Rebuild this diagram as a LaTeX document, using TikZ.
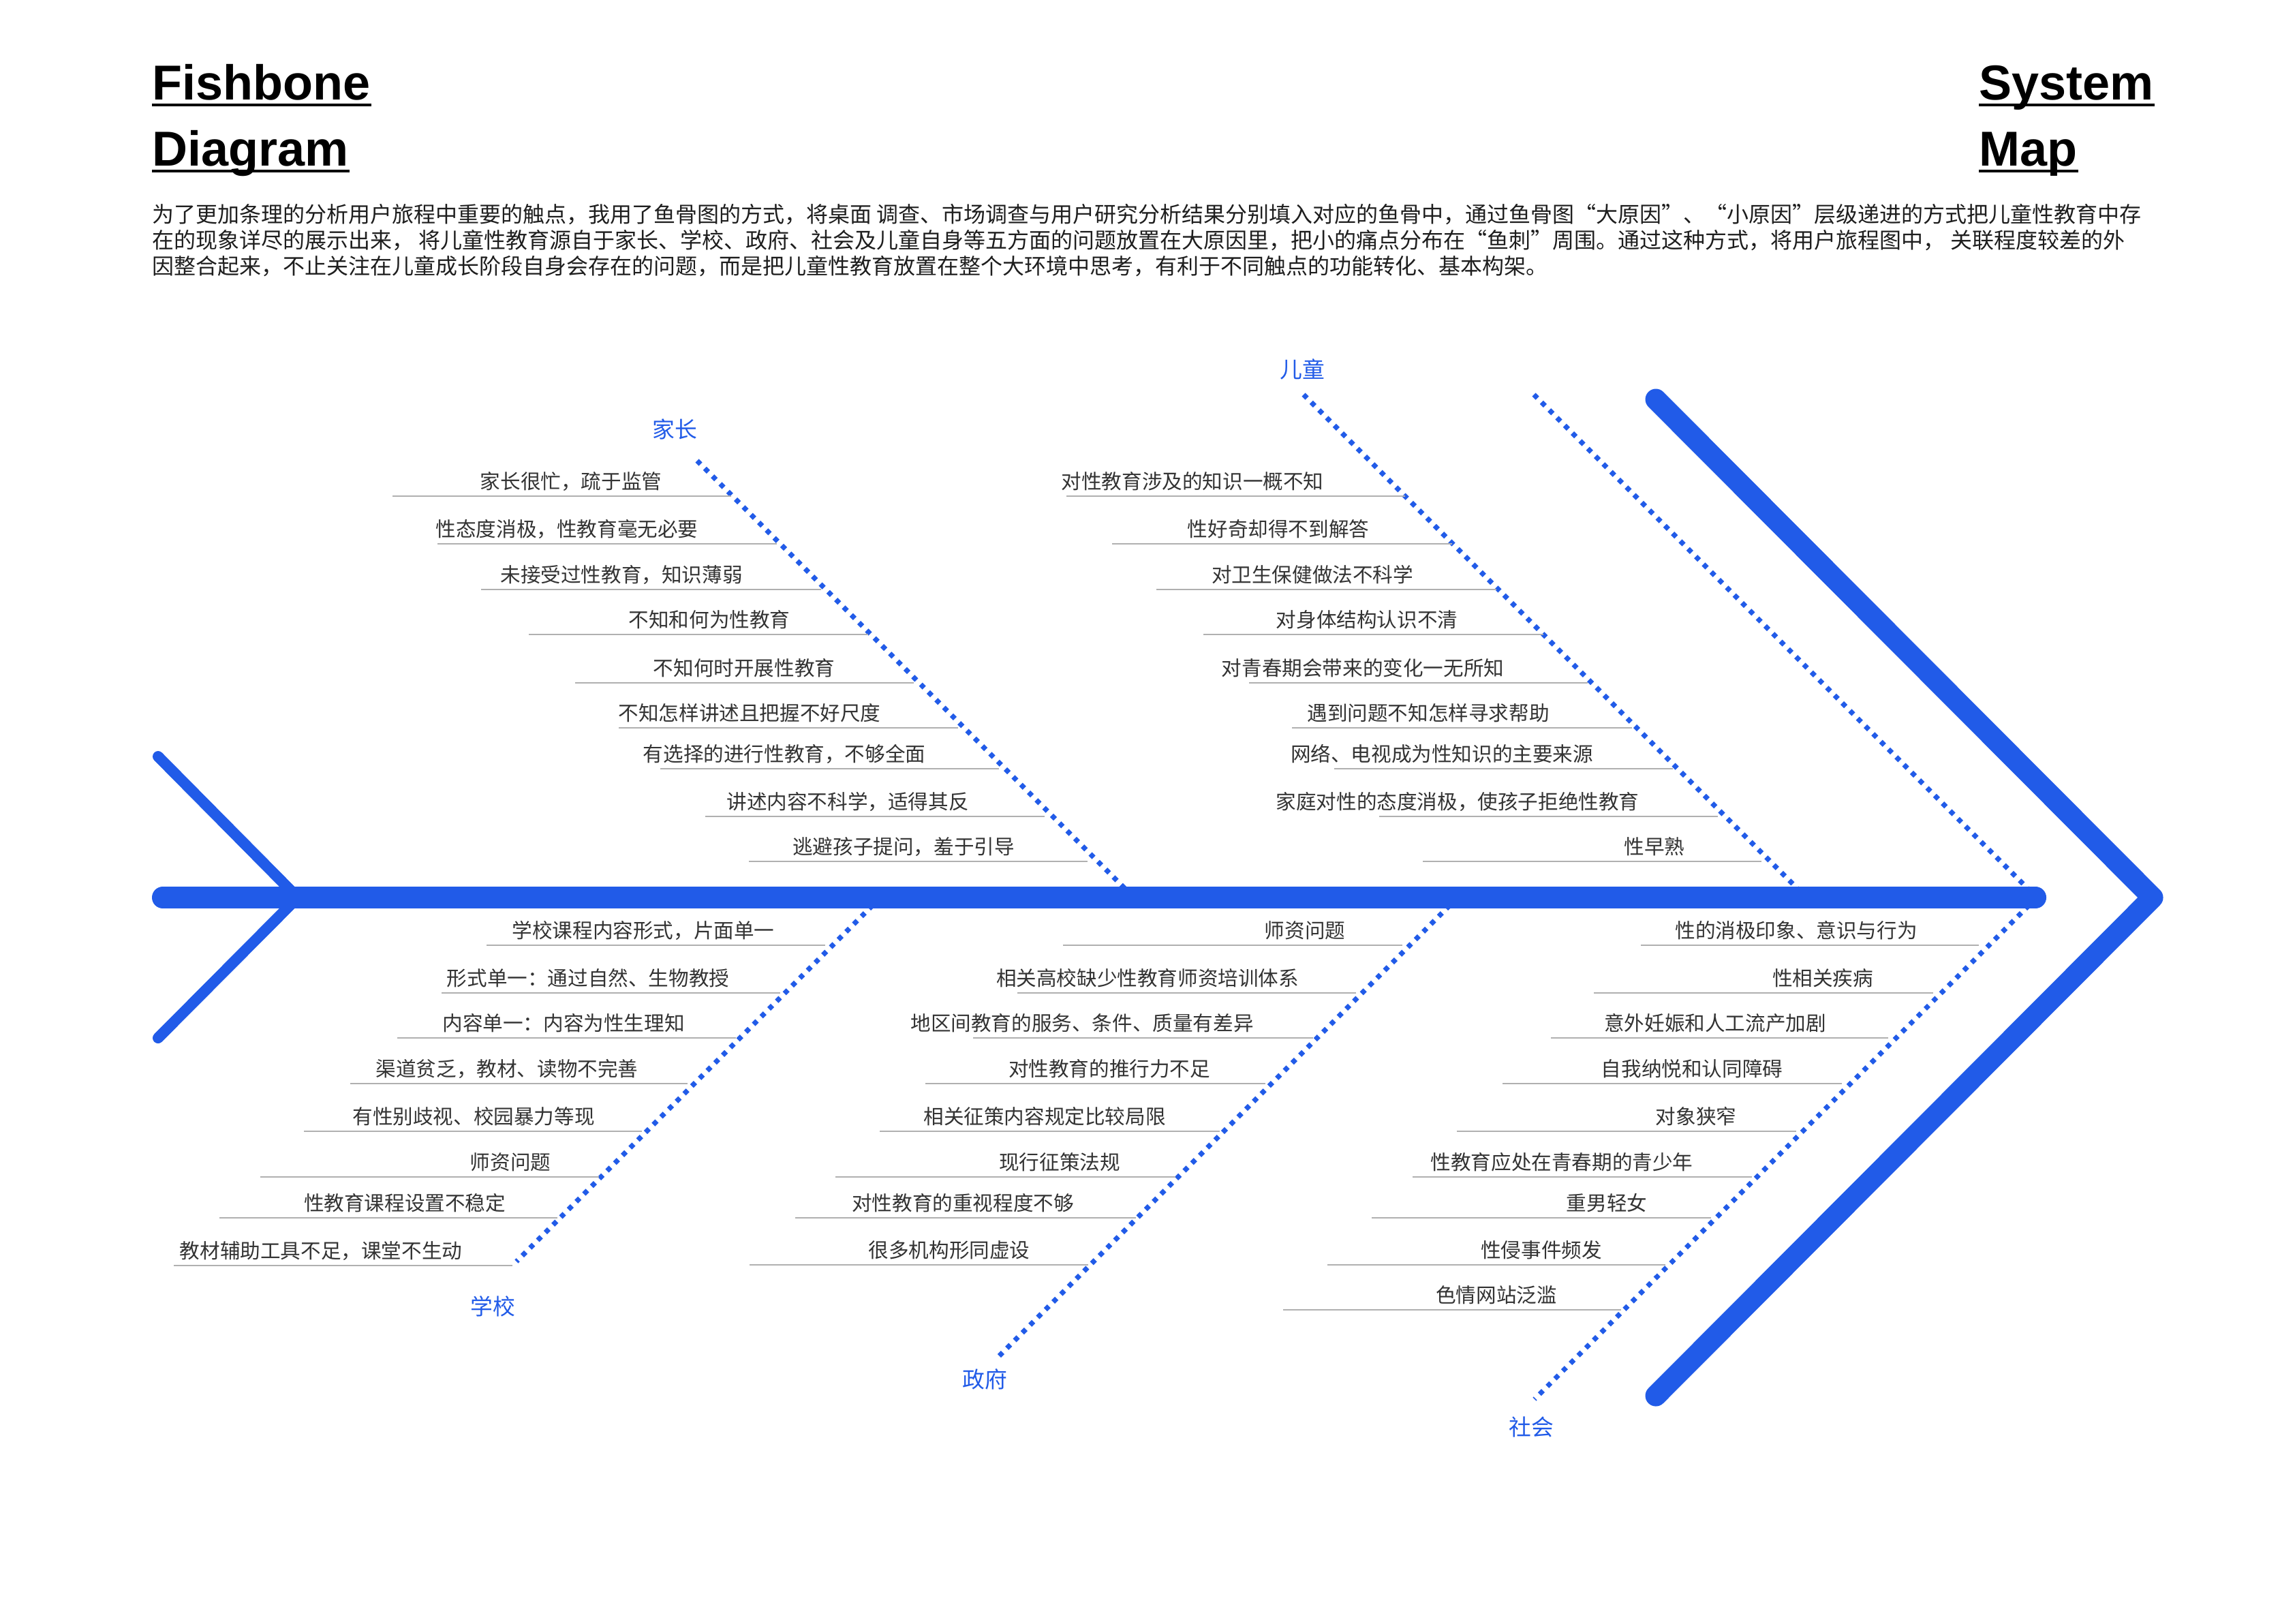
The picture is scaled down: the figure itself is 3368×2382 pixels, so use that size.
\documentclass[tikz,border=0pt]{standalone}
\usepackage{fontspec}
\setmainfont{Noto Sans CJK SC}
\newfontfamily\titlefont{Liberation Sans}
\definecolor{fbblue}{RGB}{33,91,232}
\definecolor{fbgray}{RGB}{176,176,176}
\definecolor{fbtext}{RGB}{51,51,51}
\definecolor{fbpara}{RGB}{30,30,30}
\tikzset{
  titlestyle/.style={inner sep=0pt, anchor=base west, font=\titlefont\bfseries\fontsize{18pt}{20pt}\selectfont, text=black},
  titleline/.style={line width=1pt, black},
  parastyle/.style={inner sep=0pt, anchor=base west, font=\fontsize{8pt}{9.4pt}\selectfont, text=fbpara},
  itemtext/.style={inner sep=0pt, anchor=base, font=\fontsize{7.4pt}{8.8pt}\selectfont, text=fbtext},
  uline/.style={line width=0.6pt, fbgray},
  grplabel/.style={inner sep=0pt, font=\fontsize{8.2pt}{9.6pt}\selectfont, text=fbblue},
  bonedot/.style={line width=1.8pt, fbblue, dash pattern=on 1.8pt off 2.2pt},
  spinestyle/.style={line width=8pt, fbblue, line cap=round},
  headstyle/.style={line width=7.75pt, fbblue, line cap=round, line join=round},
  tailstyle/.style={line width=4pt, fbblue, line cap=round, line join=round}
}
\newcommand\fbitem[6]{%
  \coordinate (#1a) at (#4,#3);
  \coordinate (#1b) at (#5,#3);
  \draw[uline] (#1a) -- (#1b);
  \node[itemtext] (#1) at (#2,#3-11) {#6};
}
\begin{document}
\begin{tikzpicture}[x=0.25pt,y=-0.25pt]
\useasboundingbox (0,0) rectangle (3368,2382);
\fill[white] (0,0) rectangle (3368,2382);

% titles
\node[titlestyle] (t1) at (223,146) {Fishbone};
\node[titlestyle] (t2) at (223,243) {Diagram};
\node[titlestyle] (t3) at (2904,146) {System};
\node[titlestyle] (t4) at (2904,243) {Map};
\foreach \t in {t1,t2,t3,t4}{
  \draw[titleline] ([yshift=-1.9pt]\t.base west) -- ([yshift=-1.9pt]\t.base east);
}

% paragraph
\node[parastyle] (p1) at (223,326) {为了更加条理的分析用户旅程中重要的触点，我用了鱼骨图的方式，将桌面 调查、市场调查与用户研究分析结果分别填入对应的鱼骨中，通过鱼骨图“大原因”、“小原因”层级递进的方式把儿童性教育中存};
\node[parastyle] (p2) at (223,364) {在的现象详尽的展示出来， 将儿童性教育源自于家长、学校、政府、社会及儿童自身等五方面的问题放置在大原因里，把小的痛点分布在“鱼刺”周围。通过这种方式，将用户旅程图中， 关联程度较差的外};
\node[parastyle] (p3) at (223,402) {因整合起来，不止关注在儿童成长阶段自身会存在的问题，而是把儿童性教育放置在整个大环境中思考，有利于不同触点的功能转化、基本构架。};

% bone coordinates
\coordinate (jzA) at (1023,676);  \coordinate (jzB) at (1664,1317);
\coordinate (etA) at (1913,579);  \coordinate (etB) at (2651,1317);
\coordinate (b3A) at (2251,579);  \coordinate (b3B) at (2989,1317);
\coordinate (xxA) at (1292,1317); \coordinate (xxB) at (758,1851);
\coordinate (zfA) at (2139,1317); \coordinate (zfB) at (1465,1991);
\coordinate (shA) at (2989,1317); \coordinate (shB) at (2252,2053);

\draw[bonedot] (jzA) -- (jzB);
\draw[bonedot] (etA) -- (etB);
\draw[bonedot] (b3A) -- (b3B);
\draw[bonedot] (xxA) -- (xxB);
\draw[bonedot] (zfA) -- (zfB);
\draw[bonedot] (shA) -- (shB);

% tail, spine, head
\coordinate (tailU) at (232,1110);
\coordinate (tailM) at (437,1317);
\coordinate (tailD) at (232,1523);
\coordinate (spL) at (239,1317);
\coordinate (spR) at (2987,1317);
\coordinate (hdU) at (2430,586);
\coordinate (hdT) at (3159,1317);
\coordinate (hdD) at (2430,2048);
\draw[tailstyle] (tailU) -- (tailM) -- (tailD);
\draw[spinestyle] (spL) -- (spR);
\draw[headstyle] (hdU) -- (hdT) -- (hdD);

% group labels
\node[grplabel] (gjz) at (990,630) {家长};
\node[grplabel] (get) at (1911,542) {儿童};
\node[grplabel] (gxx) at (723,1917) {学校};
\node[grplabel] (gzf) at (1445,2024) {政府};
\node[grplabel] (gsh) at (2247,2094) {社会};

% 家长
\fbitem{ja1}{838}{728}{576}{1073}{家长很忙，疏于监管}
\fbitem{ja2}{832}{798}{642}{1140}{性态度消极，性教育毫无必要}
\fbitem{ja3}{912}{865}{706}{1205}{未接受过性教育，知识薄弱}
\fbitem{ja4}{1041}{931}{776}{1274}{不知和何为性教育}
\fbitem{ja5}{1092}{1002}{844}{1341}{不知何时开展性教育}
\fbitem{ja6}{1100}{1068}{908}{1406}{不知怎样讲述且把握不好尺度}
\fbitem{ja7}{1151}{1128}{969}{1466}{有选择的进行性教育，不够全面}
\fbitem{ja8}{1244}{1198}{1035}{1533}{讲述内容不科学，适得其反}
\fbitem{ja9}{1326}{1264}{1099}{1596}{逃避孩子提问，羞于引导}

% 儿童
\fbitem{er1}{1750}{728}{1565}{2062}{对性教育涉及的知识一概不知}
\fbitem{er2}{1876}{798}{1632}{2131}{性好奇却得不到解答}
\fbitem{er3}{1926}{865}{1697}{2196}{对卫生保健做法不科学}
\fbitem{er4}{2006}{931}{1766}{2265}{对身体结构认识不清}
\fbitem{er5}{2000}{1002}{1833}{2330}{对青春期会带来的变化一无所知}
\fbitem{er6}{2096}{1068}{1896}{2395}{遇到问题不知怎样寻求帮助}
\fbitem{er7}{2116}{1128}{1958}{2455}{网络、电视成为性知识的主要来源}
\fbitem{er8}{2139}{1198}{2024}{2521}{家庭对性的态度消极，使孩子拒绝性教育}
\fbitem{er9}{2428}{1264}{2088}{2585}{性早熟}

% 学校
\fbitem{xu1}{944}{1387}{714}{1211}{学校课程内容形式，片面单一}
\fbitem{xu2}{863}{1457}{648}{1145}{形式单一：通过自然、生物教授}
\fbitem{xu3}{827}{1523}{583}{1080}{内容单一：内容为性生理知}
\fbitem{xu4}{744}{1590}{514}{1009}{渠道贫乏，教材、读物不完善}
\fbitem{xu5}{695}{1660}{446}{942}{有性别歧视、校园暴力等现}
\fbitem{xu6}{749}{1727}{382}{879}{师资问题}
\fbitem{xu7}{594}{1787}{322}{818}{性教育课程设置不稳定}
\fbitem{xu8}{471}{1857}{255}{752}{教材辅助工具不足，课堂不生动}

% 政府
\fbitem{zf1}{1915}{1387}{1560}{2058}{师资问题}
\fbitem{zf2}{1684}{1457}{1493}{1990}{相关高校缺少性教育师资培训体系}
\fbitem{zf3}{1588}{1523}{1428}{1927}{地区间教育的服务、条件、质量有差异}
\fbitem{zf4}{1628}{1590}{1358}{1857}{对性教育的推行力不足}
\fbitem{zf5}{1533}{1660}{1291}{1790}{相关征策内容规定比较局限}
\fbitem{zf6}{1555}{1727}{1226}{1725}{现行征策法规}
\fbitem{zf7}{1413}{1787}{1167}{1667}{对性教育的重视程度不够}
\fbitem{zf8}{1393}{1856}{1100}{1597}{很多机构形同虚设}

% 社会
\fbitem{sh1}{2636}{1387}{2408}{2904}{性的消极印象、意识与行为}
\fbitem{sh2}{2675}{1457}{2339}{2837}{性相关疾病}
\fbitem{sh3}{2517}{1523}{2276}{2771}{意外妊娠和人工流产加剧}
\fbitem{sh4}{2483}{1590}{2205}{2703}{自我纳悦和认同障碍}
\fbitem{sh5}{2489}{1660}{2138}{2636}{对象狭窄}
\fbitem{sh6}{2292}{1727}{2073}{2571}{性教育应处在青春期的青少年}
\fbitem{sh7}{2358}{1787}{2013}{2511}{重男轻女}
\fbitem{sh8}{2262}{1856}{1948}{2444}{性侵事件频发}
\fbitem{sh9}{2196}{1922}{1883}{2379}{色情网站泛滥}
\end{tikzpicture}
\end{document}
